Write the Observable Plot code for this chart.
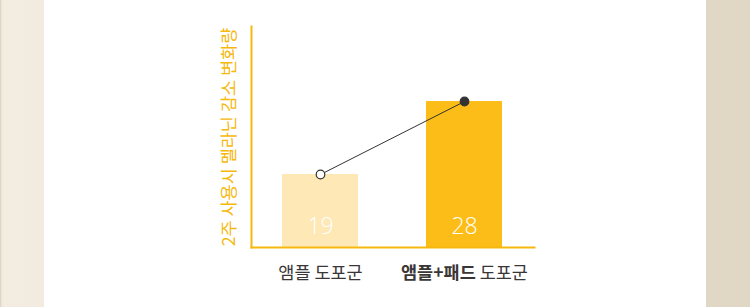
<!DOCTYPE html>
<html><head><meta charset="utf-8">
<script src="https://cdn.jsdelivr.net/npm/d3@7"></script>
<script src="https://cdn.jsdelivr.net/npm/@observablehq/plot@0.6"></script>
<style>
html,body{margin:0;padding:0;background:#fff;}
#wrap{position:relative;width:750px;height:307px;overflow:hidden;
background:linear-gradient(to right,#d8cfbf 0px,#ece4d6 1.5px,#f3ece1 3px,#f3ebe0 44px,#fff 44px,#fff 706px,#e0d7c5 706px,#e0d7c5 750px);}
#wrap svg{position:absolute;left:0;top:0;}
</style></head>
<body><div id="wrap"></div>
<script>
const categories = ["앰플 도포군", "앰플+패드 도포군"];
const boldParts = ["", "앰플+패드"];
const values = [19, 28];
const yLabel = "2주 사용시 멜라닌 감소 변화량";
const barColors = ["#fde8b6", "#fdbd19"];
const dotFills = ["#ffffff", "#333333"];

const data = categories.map((c, i) => ({cat: c, value: values[i], bar: barColors[i], dot: dotFills[i], bold: boldParts[i]}));
const orange = "#f6b80f";

const chart = Plot.plot({
  width: 750, height: 307,
  marginLeft: 251, marginRight: 216, marginTop: 26, marginBottom: 60,
  style: {background: "transparent", overflow: "visible"},
  x: {type: "band", domain: categories, paddingInner: 0.472, paddingOuter: 0.215, axis: null},
  y: {domain: [10, 37.25], axis: null},
  marks: [
    Plot.barY(data, {x: "cat", y1: 10, y2: "value", fill: "bar"}),
    Plot.frame({anchor: "left", stroke: orange, strokeWidth: 2}),
    Plot.frame({anchor: "bottom", stroke: orange, strokeWidth: 2}),
    Plot.line(data, {x: "cat", y: "value", stroke: "#333", strokeWidth: 1}),
    Plot.dot(data, {x: "cat", y: "value", r: 4.3, fill: "dot", stroke: "#333", strokeWidth: 1.2}),
    Plot.text(data, {x: "cat", y: 10, text: d => String(d.value), dy: -21, fill: "#fff",
      fontSize: 23, fontFamily: "Open Sans", fontWeight: 300}),
    Plot.text(data, {x: "cat", frameAnchor: "bottom", text: "cat", dy: 31, fill: "#3a3636",
      fontSize: 17.5, fontFamily: "Noto Sans CJK KR"}),
    Plot.text([yLabel], {frameAnchor: "left", text: d => d, rotate: -90, dx: -22, fill: orange,
      textAnchor: "middle", lineAnchor: "middle",
      fontSize: 17.5, fontFamily: "Noto Sans CJK KR"})
  ]
});
document.getElementById("wrap").appendChild(chart);

d3.select(chart).selectAll("text").each(function() {
  const el = d3.select(this);
  const d = data.find(e => e.bold && e.cat === this.textContent);
  if (!d) return;
  const rest = d.cat.slice(d.bold.length);
  el.text(null);
  el.append("tspan").attr("font-weight", "bold").text(d.bold);
  el.append("tspan").text(rest);
});
</script></body></html>
